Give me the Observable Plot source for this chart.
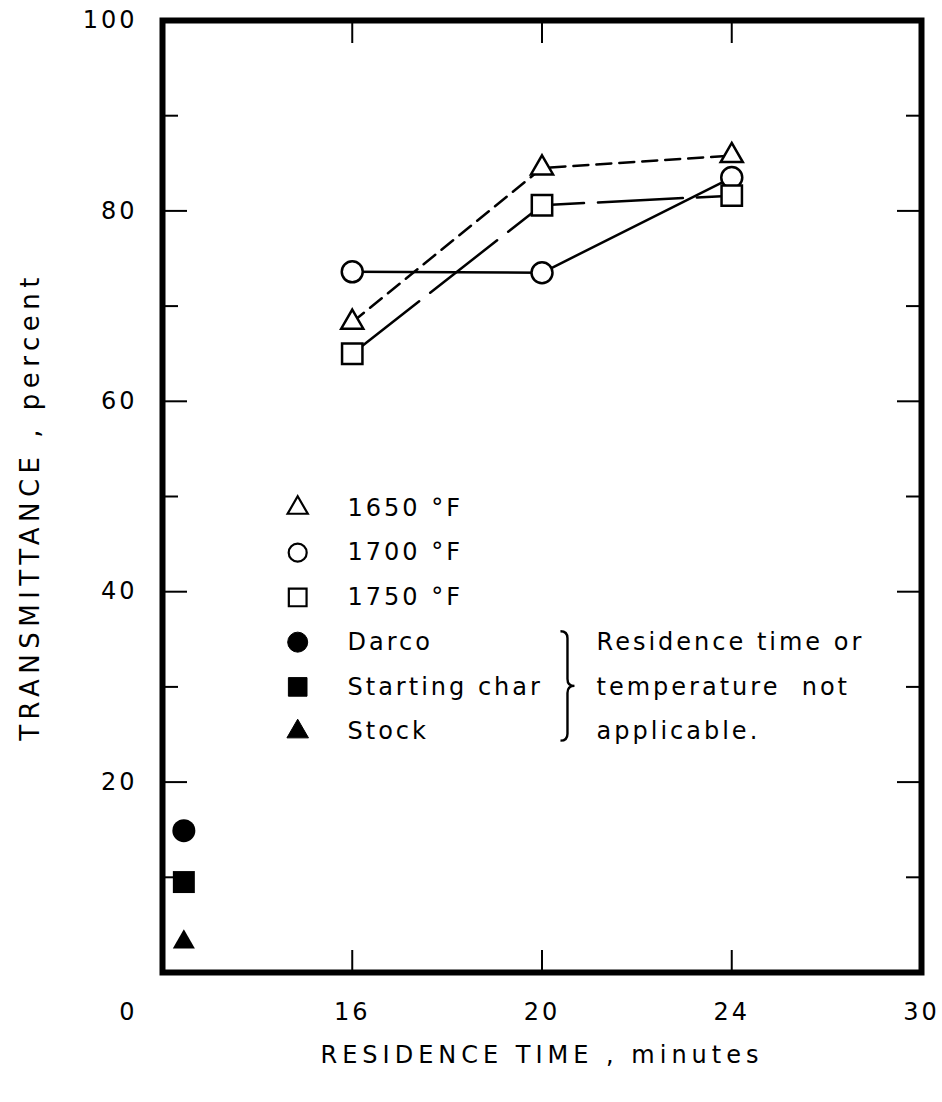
<!DOCTYPE html>
<html><head><meta charset="utf-8">
<script src="https://cdn.jsdelivr.net/npm/d3@7"></script>
<script src="https://cdn.jsdelivr.net/npm/@observablehq/plot@0.6"></script>
<style>
body{margin:0;background:#fff;}
svg text{letter-spacing:3px;}
</style></head><body><div id="chart"></div>
<script>
// ---- data ----
const xTicks = [0, 16, 20, 24, 30];
const residenceTimes = [16, 20, 24];
const t1650 = [68.3, 84.5, 85.8];
const t1700 = [73.6, 73.5, 83.5];
const t1750 = [65.0, 80.6, 81.6];
const refNames = ["Darco", "Starting char", "Stock"];
const refValues = [14.9, 9.5, 3.2];
const refTime = 1.8;
const yMajor = [20, 40, 60, 80, 100];
const yMinor = [10, 30, 50, 70, 90];
const legendLabels = ["1650 °F", "1700 °F", "1750 °F", "Darco", "Starting char", "Stock"];
const noteLines = ["Residence time or", "temperature  not", "applicable."];
const xLabel = "RESIDENCE TIME , minutes";
const yLabel = "TRANSMITTANCE , percent";

// ---- helpers ----
const series = (vals) => residenceTimes.map((t, i) => ({t, v: vals[i]}));
const legendY = (i) => 48.8 - i * 4.7;   // legend row position (data units)
const legendSymX = 11.4, legendTextX = 15.6, braceX = 20.4, noteX = 21.15;
const legendStyle = [
  {symbol: "triangle", fill: "white", r: 7.5},
  {symbol: "circle", fill: "white", r: 9},
  {symbol: "square", fill: "white", r: 10},
  {symbol: "circle", fill: "black", r: 10},
  {symbol: "square", fill: "black", r: 10.5},
  {symbol: "triangle", fill: "black", r: 8}
];

function braceMark(x, yTop, yBottom) {
  return (index, scales) => {
    const px = scales.x(x), y1 = scales.y(yTop), y2 = scales.y(yBottom);
    const w = 14, ym = (y1 + y2) / 2, h = w / 2;
    const d = `M${px},${y1} Q${px + h},${y1} ${px + h},${y1 + h} L${px + h},${ym - h} Q${px + h},${ym} ${px + w},${ym} Q${px + h},${ym} ${px + h},${ym + h} L${px + h},${y2 - h} Q${px + h},${y2} ${px},${y2}`;
    const path = document.createElementNS("http://www.w3.org/2000/svg", "path");
    path.setAttribute("d", d);
    path.setAttribute("fill", "none");
    path.setAttribute("stroke", "black");
    path.setAttribute("stroke-width", "2.4");
    return path;
  };
}

const lineOpts = {x: "t", y: "v", stroke: "black", strokeWidth: 2.5};
const legendMarks = legendLabels.flatMap((lab, i) => {
  const s = legendStyle[i];
  return [
    Plot.dot([lab], {x: () => legendSymX, y: () => legendY(i), symbol: s.symbol, r: s.r,
      fill: s.fill, stroke: "black", strokeWidth: s.fill === "white" ? 2.2 : 1}),
    Plot.text([lab], {x: () => legendTextX, y: () => legendY(i), text: d => d,
      textAnchor: "start", fontSize: 24})
  ];
});

const chart = Plot.plot({
  width: 942,
  height: 1102,
  marginLeft: 162,
  marginRight: 21,
  marginTop: 20,
  marginBottom: 130,
  style: {fontFamily: "DejaVu Sans", fontSize: "24px", color: "black", background: "white"},
  x: {type: "linear", domain: xTicks, label: null},
  y: {type: "linear", domain: [0, 100], label: null},
  marks: [
    // inward ticks
    Plot.axisY({anchor: "left", ticks: [20, 40, 60, 80], tickSize: -25, text: null, label: null, strokeWidth: 2}),
    Plot.axisY({anchor: "left", ticks: yMinor, tickSize: -16, text: null, label: null, strokeWidth: 2}),
    Plot.axisY({anchor: "right", ticks: [20, 40, 60, 80], tickSize: -25, text: null, label: null, strokeWidth: 2}),
    Plot.axisY({anchor: "right", ticks: yMinor, tickSize: -16, text: null, label: null, strokeWidth: 2}),
    Plot.axisX({anchor: "top", ticks: residenceTimes, tickSize: -22, text: null, label: null, strokeWidth: 2}),
    Plot.axisX({anchor: "bottom", ticks: residenceTimes, tickSize: -22, text: null, label: null, strokeWidth: 2}),
    // tick labels
    Plot.axisY({anchor: "left", ticks: yMajor, tickSize: 0, tickPadding: 25, label: null, fontSize: 24}),
    Plot.axisX({anchor: "bottom", ticks: xTicks.slice(1), tickSize: 0, tickPadding: 30, label: null, fontSize: 24}),
    Plot.axisX({anchor: "bottom", ticks: [xTicks[0]], tickSize: 0, tickPadding: 30, dx: -34, label: null, fontSize: 24}),
    // axis titles
    Plot.text([yLabel], {frameAnchor: "left", textAnchor: "middle", text: d => d, rotate: -90, dx: -132, dy: 10, fontSize: 26}),
    Plot.text([xLabel], {frameAnchor: "bottom", textAnchor: "middle", text: d => d, dy: 90, fontSize: 24}),
    // series lines
    Plot.line(series(t1650), {...lineOpts, strokeDasharray: "15,8"}),
    Plot.line(series(t1700), {...lineOpts}),
    Plot.line(series(t1750), {...lineOpts, strokeDasharray: "85,14"}),
    // series markers
    Plot.dot(series(t1650), {x: "t", y: "v", symbol: "triangle", r: 8.2, fill: "white", stroke: "black", strokeWidth: 2.5}),
    Plot.dot(series(t1700), {x: "t", y: "v", symbol: "circle", r: 10.5, fill: "white", stroke: "black", strokeWidth: 2.5}),
    Plot.dot(series(t1750), {x: "t", y: "v", symbol: "square", r: 11.5, fill: "white", stroke: "black", strokeWidth: 2.5}),
    // reference samples
    Plot.dot([refValues[0]], {x: () => refTime, y: d => d, symbol: "circle", r: 11.5, fill: "black"}),
    Plot.dot([refValues[1]], {x: () => refTime, y: d => d, symbol: "square", r: 12.4, fill: "black"}),
    Plot.dot([refValues[2]], {x: () => refTime, y: d => d, symbol: "triangle", r: 8.2, fill: "black"}),
    // legend
    ...legendMarks,
    braceMark(braceX, legendY(3) + 1.1, legendY(5) - 1.0),
    Plot.text(noteLines, {x: () => noteX, y: (d, i) => legendY(3 + i), text: d => d, textAnchor: "start", fontSize: 24}),
    Plot.frame({stroke: "black", strokeWidth: 6})
  ]
});
// wider letter spacing for the two axis titles
d3.select(chart).selectAll("text")
  .filter(function () { return this.textContent === yLabel; })
  .style("letter-spacing", "5.5px");
d3.select(chart).selectAll("text")
  .filter(function () { return this.textContent === xLabel; })
  .style("letter-spacing", "5px");
document.getElementById("chart").appendChild(chart);
</script>
</body></html>
